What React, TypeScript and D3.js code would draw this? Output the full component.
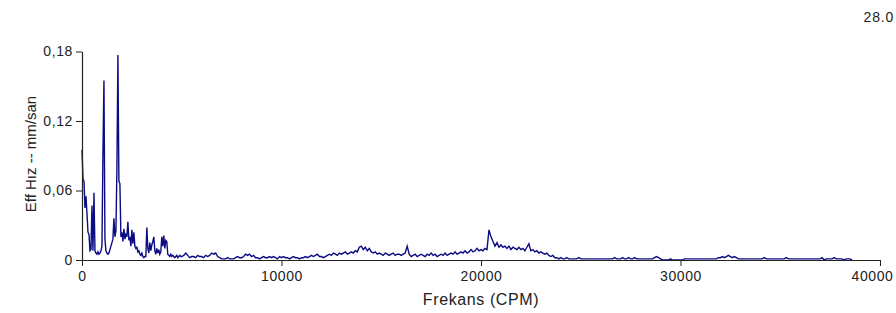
import { useEffect, useRef } from 'react';
import * as d3 from 'd3';

// spectrum, 0..4950 CPM at 50 CPM per bin
const lowBandStartCpm = 0;
const lowBandStepCpm = 50;
const lowBandAmp = [
  0.095, 0.07, 0.068, 0.045, 0.055, 0.04, 0.024, 0.022, 0.008, 0.009,
  0.047, 0.008, 0.058, 0.008, 0.006, 0.005, 0.007, 0.005, 0.006, 0.008,
  0.012, 0.092, 0.155, 0.018, 0.008, 0.006, 0.005, 0.006, 0.009, 0.012,
  0.015, 0.018, 0.036, 0.02, 0.025, 0.078, 0.177, 0.068, 0.066, 0.02,
  0.024, 0.016, 0.027, 0.018, 0.022, 0.02, 0.033, 0.017, 0.02, 0.012,
  0.026, 0.014, 0.024, 0.012, 0.01, 0.011, 0.007, 0.008, 0.005, 0.004,
  0.006, 0.003, 0.002, 0.003, 0.003, 0.028, 0.01, 0.006, 0.015, 0.008,
  0.013, 0.016, 0.02, 0.008, 0.005, 0.01, 0.006, 0.009, 0.005, 0.007,
  0.02, 0.012, 0.021, 0.01, 0.017, 0.016, 0.005, 0.004, 0.003, 0.005,
  0.003, 0.004, 0.003, 0.002, 0.003, 0.004, 0.002, 0.003, 0.004, 0.003,
];

// spectrum, 5000..38600 CPM at 100 CPM per bin
const highBandStartCpm = 5000;
const highBandStepCpm = 100;
const highBandAmp = [
  0.003, 0.004, 0.006, 0.004, 0.002, 0.003, 0.003, 0.002, 0.004, 0.003,
  0.003, 0.002, 0.004, 0.003, 0.004, 0.006, 0.005, 0.006, 0.003, 0.002,
  0.001, 0.001, 0.001, 0.002, 0.001, 0.001, 0.001, 0.002, 0.003, 0.002,
  0.002, 0.003, 0.005, 0.004, 0.005, 0.003, 0.004, 0.002, 0.002, 0.001,
  0.002, 0.003, 0.002, 0.002, 0.003, 0.002, 0.003, 0.002, 0.001, 0.003,
  0.002, 0.003, 0.002, 0.002, 0.001, 0.002, 0.003, 0.002, 0.002, 0.001,
  0.002, 0.002, 0.003, 0.002, 0.003, 0.004, 0.003, 0.004, 0.005, 0.003,
  0.003, 0.002, 0.003, 0.004, 0.005, 0.004, 0.006, 0.005, 0.004, 0.006,
  0.005, 0.006, 0.007, 0.005, 0.006, 0.007, 0.006, 0.008, 0.007, 0.011,
  0.012, 0.009, 0.011, 0.008, 0.01, 0.007, 0.006, 0.007, 0.005, 0.006,
  0.005, 0.004, 0.006, 0.005, 0.004, 0.005, 0.006, 0.004, 0.005, 0.005,
  0.004, 0.005, 0.006, 0.012, 0.005, 0.003, 0.004, 0.005, 0.003, 0.004,
  0.005, 0.004, 0.003, 0.005, 0.004, 0.006, 0.004, 0.005, 0.003, 0.004,
  0.005, 0.004, 0.006, 0.004, 0.005, 0.006, 0.005, 0.007, 0.005, 0.006,
  0.007, 0.006, 0.008, 0.006, 0.007, 0.009, 0.007, 0.008, 0.01, 0.008,
  0.009, 0.008, 0.01, 0.009, 0.026, 0.02, 0.016, 0.012, 0.015, 0.011,
  0.013, 0.011, 0.012, 0.01, 0.012, 0.009, 0.011, 0.01, 0.009, 0.011,
  0.009, 0.01, 0.008, 0.011, 0.014, 0.008, 0.009, 0.007, 0.008, 0.006,
  0.007, 0.006, 0.005, 0.006, 0.004, 0.003, 0.004, 0.002, 0.002, 0.001,
  0.002, 0.001, 0.001, 0.002, 0.001, 0.001, 0.001, 0.001, 0.001, 0.002,
  0.001, 0.001, 0.001, 0.001, 0.001, 0.001, 0.001, 0.001, 0.001, 0.001,
  0.001, 0.001, 0.001, 0.001, 0.001, 0.001, 0.001, 0.002, 0.001, 0.001,
  0.001, 0.002, 0.001, 0.001, 0.002, 0.001, 0.001, 0.002, 0.001, 0.001,
  0.001, 0.001, 0.001, 0.001, 0.001, 0.001, 0.001, 0.002, 0.003, 0.002,
  0.001, 0, 0, 0, 0, 0.001, 0, 0, 0, 0,
  0, 0, 0.001, 0.001, 0.001, 0.001, 0.001, 0.001, 0.001, 0.001,
  0.001, 0.001, 0.001, 0.001, 0.001, 0.001, 0.001, 0.001, 0.001, 0.002,
  0.002, 0.003, 0.002, 0.003, 0.004, 0.003, 0.002, 0.003, 0.002, 0.001,
  0.001, 0.001, 0.001, 0.001, 0.001, 0.001, 0.001, 0.001, 0.001, 0.001,
  0.001, 0.001, 0.002, 0.001, 0.001, 0.001, 0.001, 0.001, 0.001, 0.001,
  0.001, 0.001, 0.001, 0.002, 0.001, 0.001, 0.001, 0.001, 0.001, 0.001,
  0.001, 0.001, 0.001, 0.001, 0.001, 0.001, 0.001, 0.001, 0.001, 0.001,
  0.001, 0.002, 0, 0.001, 0.001, 0.001, 0.001, 0.002, 0.001, 0.001,
  0.001, 0.001, 0, 0.001, 0.001, 0.001, 0,
];

const xTickValues = [0, 10000, 20000, 30000, 40000];
const yTickValues = [0, 0.06, 0.12, 0.18];
const xDomain = [0, 40000];
const yDomain = [0, 0.18];

const xTitle = 'Frekans (CPM)';
const yTitle = 'Eff Hız -- mm/san';
const cornerText = '28.0';

const width = 896;
const height = 313;
const font = '"Liberation Sans", Arial, sans-serif';

type Point = { cpm: number; amp: number };

export default function App() {
  const svgRef = useRef<SVGSVGElement>(null);

  useEffect(() => {
    const svg = d3.select(svgRef.current);
    svg.selectAll('*').remove();

    const points: Point[] = [
      ...lowBandAmp.map((amp, i) => ({ cpm: lowBandStartCpm + i * lowBandStepCpm, amp })),
      ...highBandAmp.map((amp, i) => ({ cpm: highBandStartCpm + i * highBandStepCpm, amp })),
    ];

    const x = d3.scaleLinear().domain(xDomain).range([82, 880]);
    const y = d3.scaleLinear().domain(yDomain).range([260, 51.5]);

    const line = d3.line<Point>()
      .x(d => x(d.cpm))
      .y(d => y(d.amp));

    // spectrum line
    svg.append('path')
      .datum(points)
      .attr('fill', 'none')
      .attr('stroke', '#0b0b84')
      .attr('stroke-width', 1.4)
      .attr('d', line);

    // axes
    const xAxis = svg.append('g')
      .attr('transform', `translate(0,260)`)
      .call(d3.axisBottom(x).tickValues(xTickValues).tickSize(6).tickSizeOuter(0).tickPadding(5).tickFormat(d => `${d}`));

    const yAxis = svg.append('g')
      .attr('transform', `translate(82,0)`)
      .call(d3.axisLeft(y).tickValues(yTickValues).tickSize(6).tickSizeOuter(0).tickPadding(3)
        .tickFormat(d => (+d === 0 ? '0' : (+d).toFixed(2).replace('.', ','))));

    [xAxis, yAxis].forEach(a => {
      a.select('.domain').attr('stroke', '#222').attr('stroke-width', 1.2);
      a.selectAll('.tick line').attr('stroke', '#222');
      a.selectAll('.tick text')
        .attr('fill', '#222')
        .style('font-family', font)
        .style('font-size', '14px')
        .style('letter-spacing', '0.6px');
    });

    // last x label is pulled in so it stays inside the frame
    xAxis.selectAll<SVGTextElement, number>('.tick text')
      .filter(d => d === xTickValues[xTickValues.length - 1])
      .attr('text-anchor', 'end')
      .attr('x', 13);

    // axis titles
    svg.append('text')
      .attr('x', 481)
      .attr('y', 305)
      .attr('text-anchor', 'middle')
      .style('font-family', font)
      .style('font-size', '16px')
      .style('letter-spacing', '0.6px')
      .attr('fill', '#222')
      .text(xTitle);

    svg.append('text')
      .attr('transform', 'translate(36,154) rotate(-90)')
      .attr('text-anchor', 'middle')
      .style('font-family', font)
      .style('font-size', '15px')
      .attr('fill', '#222')
      .text(yTitle);

    svg.append('text')
      .attr('x', 894)
      .attr('y', 22)
      .attr('text-anchor', 'end')
      .style('font-family', font)
      .style('font-size', '14px')
      .style('letter-spacing', '0.8px')
      .attr('fill', '#222')
      .text(cornerText);
  }, []);

  return (
    <svg
      ref={svgRef}
      width={width}
      height={height}
      style={{ position: 'absolute', left: 0, top: 0, background: '#fff' }}
    />
  );
}
